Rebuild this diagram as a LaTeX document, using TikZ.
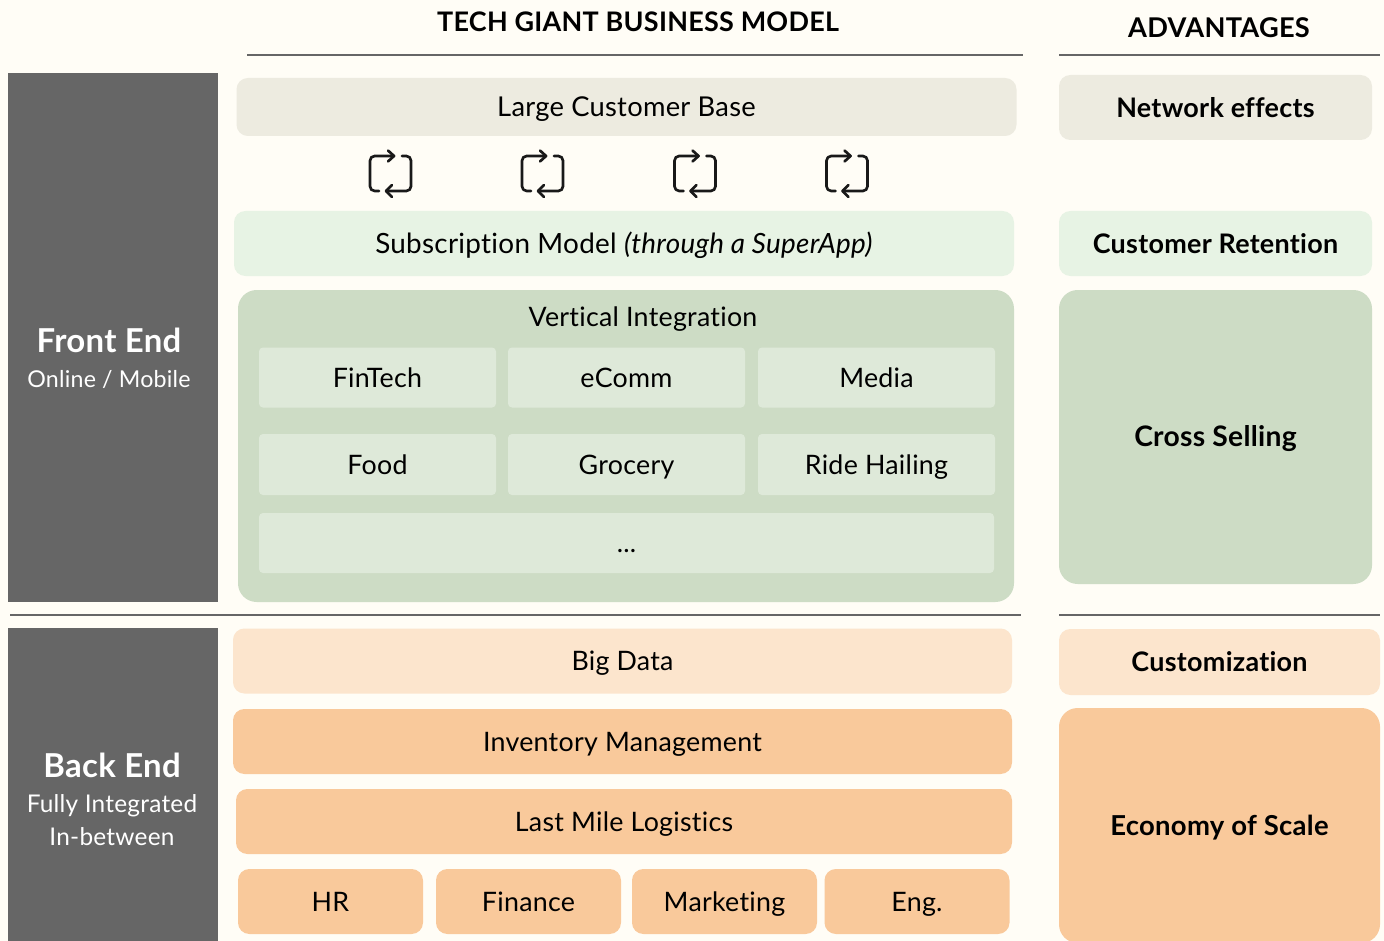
\documentclass[tikz,border=0pt]{standalone}
\usepackage{fontspec}
\setmainfont{Lato}[LetterSpace=1,Ligatures=NoCommon]
\definecolor{pagebg}{RGB}{255,253,246}
\definecolor{sidegray}{RGB}{102,102,102}
\definecolor{rulegray}{RGB}{102,102,102}
\definecolor{creamfill}{RGB}{237,235,224}
\definecolor{mintfill}{RGB}{231,243,228}
\definecolor{sagefill}{RGB}{205,220,197}
\definecolor{palesage}{RGB}{222,233,217}
\definecolor{peachfill}{RGB}{252,229,205}
\definecolor{orangefill}{RGB}{249,201,155}
\tikzset{
  softbox/.style={rounded corners=8.5pt,inner sep=0pt,text height=14.5pt,text depth=0pt,font=\fontsize{20.1}{24}\selectfont,text=black},
  sharpbox/.style={softbox,rounded corners=3pt,fill=palesage},
  gainbox/.style={softbox,font=\fontsize{20.2}{24}\selectfont\bfseries},
  bigbox/.style={rounded corners=14pt},
  sidebar/.style={fill=sidegray,inner sep=0pt},
  sidetext/.style={inner sep=0pt,text=white,align=center},
  headrule/.style={draw=rulegray,line width=1.1pt},
  swapline/.style={line width=2pt,line cap=round,line join=round,draw=black!90},
}
\begin{document}
\begin{tikzpicture}[x=0.75pt,y=0.75pt,yscale=-1,xscale=1]
\useasboundingbox[fill=pagebg] (0,0) rectangle (1384,941);

%titles and rules
\node (title) [inner sep=0pt,font=\fontsize{20.2}{24}\selectfont\bfseries] at (638,22) {TECH GIANT BUSINESS MODEL};
\node (advtitle) [inner sep=0pt,font=\fontsize{20.4}{24}\selectfont\bfseries] at (1219,28) {ADVANTAGES};
\draw [headrule] (247,55) -- (1023,55);
\draw [headrule] (1059,55) -- (1380,55);
\draw [headrule] (10,615) -- (1021,615);
\draw [headrule] (1059,615) -- (1380,615);

%side bars
\node (frontbar) [sidebar,minimum width=157.5pt,minimum height=396.75pt] at (113,337.5) {};
\node (backbar) [sidebar,minimum width=157.5pt,minimum height=234.75pt] at (113,784.5) {};
\node (fronthead) [sidetext,font=\fontsize{24.7}{28}\selectfont\bfseries] at (109,340) {Front End};
\node (frontsub) [sidetext,font=\fontsize{17.4}{22}\selectfont] at (109,379) {Online / Mobile};
\node (backhead) [sidetext,font=\fontsize{24.7}{28}\selectfont\bfseries] at (112,765) {Back End};
\node (backsub) [sidetext,font=\fontsize{18.3}{24.75}\selectfont] at (112,820) {Fully Integrated\\In-between};

%front end column
\node (custbase) [softbox,fill=creamfill,font=\fontsize{20.5}{24}\selectfont,minimum width=585pt,minimum height=43.5pt] at (626.5,107) {Large Customer Base};
\node (submodel) [softbox,fill=mintfill,font=\fontsize{20.9}{24}\selectfont,minimum width=585pt,minimum height=48.75pt] at (624,243.5) {Subscription Model \textit{(through a SuperApp)}};
\node (vertbox) [softbox,bigbox,fill=sagefill,minimum width=582pt,minimum height=234pt] at (626,446) {};
\node (verttext) [softbox] at (643,317) {Vertical Integration};
\node (fintech) [sharpbox,minimum width=177.75pt,minimum height=45pt] at (377.5,377.5) {FinTech};
\node (ecomm) [sharpbox,minimum width=177.75pt,minimum height=45pt] at (626.5,377.5) {eComm};
\node (media) [sharpbox,minimum width=177.75pt,minimum height=45pt] at (876.5,377.5) {Media};
\node (food) [sharpbox,minimum width=177.75pt,minimum height=45.75pt] at (377.5,464.5) {Food};
\node (grocery) [sharpbox,minimum width=177.75pt,minimum height=45.75pt] at (626.5,464.5) {Grocery};
\node (ride) [sharpbox,minimum width=177.75pt,minimum height=45.75pt] at (876.5,464.5) {Ride Hailing};
\node (more) [sharpbox,minimum width=551.25pt,minimum height=45pt] at (626.5,543) {...};

%swap icons
\foreach \cx in {390.5,542.5,695,847}{
  \draw [swapline,rounded corners=3.5pt] (\cx+3.5,156) -- (\cx-20.5,156) -- (\cx-20.5,191) -- (\cx-11.5,191);
  \draw [swapline,rounded corners=3.5pt] (\cx-4.5,191) -- (\cx+20.5,191) -- (\cx+20.5,156) -- (\cx+11.5,156);
  \draw [swapline] (\cx-2.5,150.5) -- (\cx+3.5,156) -- (\cx-2.5,161.5);
  \draw [swapline] (\cx+1.5,185) -- (\cx-4.5,191) -- (\cx+1.5,197);
}

%back end column
\node (bigdata) [softbox,fill=peachfill,minimum width=584.25pt,minimum height=48.75pt] at (622.5,661) {Big Data};
\node (inventory) [softbox,fill=orangefill,minimum width=584.25pt,minimum height=48.75pt] at (622.5,741.5) {Inventory Management};
\node (lastmile) [softbox,fill=orangefill,minimum width=582pt,minimum height=48.75pt] at (624,821.5) {Last Mile Logistics};
\node (hr) [softbox,fill=orangefill,minimum width=138.75pt,minimum height=48.75pt] at (330.5,901.5) {HR};
\node (finance) [softbox,fill=orangefill,minimum width=138.75pt,minimum height=48.75pt] at (528.5,901.5) {Finance};
\node (marketing) [softbox,fill=orangefill,minimum width=138.75pt,minimum height=48.75pt] at (724.5,901.5) {Marketing};
\node (eng) [softbox,fill=orangefill,minimum width=138.75pt,minimum height=48.75pt] at (917,901.5) {Eng.};

%advantages column
\node (network) [gainbox,fill=creamfill,minimum width=234.75pt,minimum height=48.75pt] at (1215.5,107.5) {Network effects};
\node (retention) [gainbox,fill=mintfill,minimum width=234.75pt,minimum height=48.75pt] at (1215.5,243.5) {Customer Retention};
\node (crosssell) [gainbox,bigbox,fill=sagefill,font=\fontsize{21.2}{24}\selectfont\bfseries,minimum width=234.75pt,minimum height=220.5pt] at (1215.5,437) {Cross Selling};
\node (custom) [gainbox,fill=peachfill,minimum width=240.75pt,minimum height=49.5pt] at (1219.5,662) {Customization};
\node (economy) [gainbox,bigbox,fill=orangefill,font=\fontsize{20.6}{24}\selectfont\bfseries,minimum width=240.75pt,minimum height=176.25pt] at (1219.5,825.5) {Economy of Scale};
\end{tikzpicture}
\end{document}
